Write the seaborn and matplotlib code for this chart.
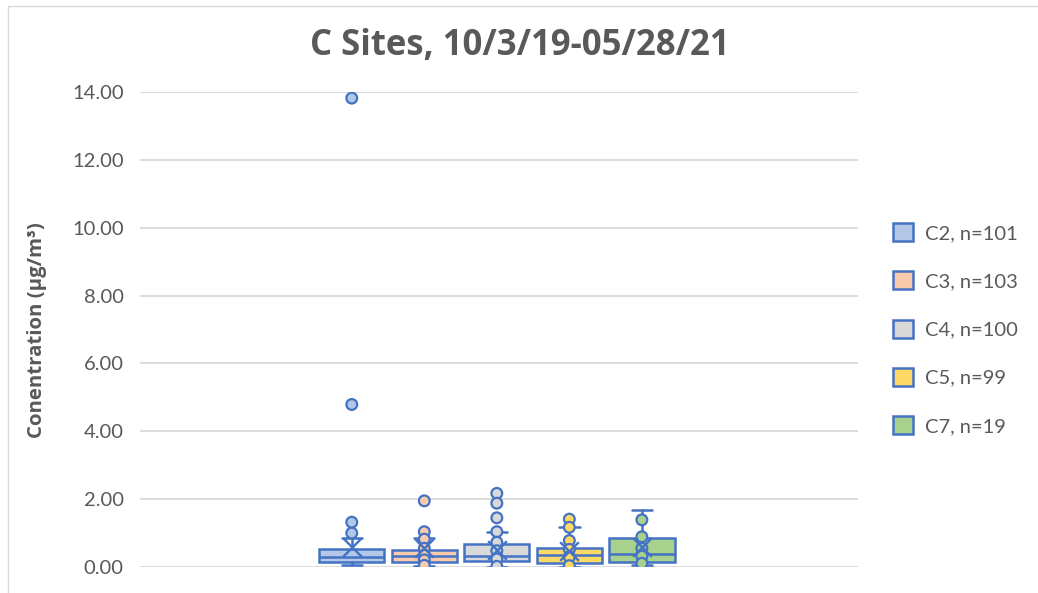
import matplotlib
matplotlib.use("Agg")
import matplotlib.pyplot as plt
from matplotlib.patches import Patch, Rectangle
import pandas as pd
import seaborn as sns

sites = ["C2", "C3", "C4", "C5", "C7"]
counts = [101, 103, 100, 99, 19]
q1 = [0.16, 0.15, 0.18, 0.13, 0.14]
medians = [0.29, 0.33, 0.32, 0.35, 0.38]
q3 = [0.52, 0.50, 0.68, 0.56, 0.86]
whisker_lo = [0.05, 0.03, 0.01, 0.01, 0.05]
whisker_hi = [0.85, 0.85, 1.04, 1.17, 1.68]
means = [0.60, 0.55, 0.50, 0.46, 0.60]
outliers = [
    [13.82, 4.79, 1.32, 1.00],
    [1.95, 1.04],
    [2.17, 1.88, 1.45],
    [1.41],
    [],
]
inner_points = [
    [],
    [0.82, 0.55, 0.35, 0.21, 0.05],
    [1.04, 0.73, 0.48, 0.24, 0.02],
    [1.17, 0.78, 0.52, 0.30, 0.04],
    [1.39, 0.89, 0.55, 0.32, 0.11],
]
fills = ["#B4C7E7", "#F8CBAD", "#D9D9D9", "#FFD966", "#A9D18E"]
edge = "#4472C4"
text_col = "#595959"

sns.set_theme(style="white")
plt.rcParams["font.family"] = ["Lato", "DejaVu Sans"]
bold_font = ["Open Sans", "DejaVu Sans"]

fig = plt.figure(figsize=(10.38, 5.93), dpi=100)
ax = fig.add_axes([140 / 1038, 1 - 567 / 593, 718 / 1038, 475 / 593])

positions = list(range(len(sites)))
stats = []
for i, s in enumerate(sites):
    stats.append(dict(label=s, med=medians[i], q1=q1[i], q3=q3[i],
                      whislo=whisker_lo[i], whishi=whisker_hi[i], fliers=[]))

bp = ax.bxp(stats, positions=positions, widths=0.9, capwidths=0.28,
            patch_artist=True, showfliers=False,
            boxprops=dict(edgecolor=edge, linewidth=1.8),
            medianprops=dict(color=edge, linewidth=1.8),
            whiskerprops=dict(color=edge, linewidth=1.8),
            capprops=dict(color=edge, linewidth=1.8), zorder=3)
for patch, c in zip(bp["boxes"], fills):
    patch.set_facecolor(c)

# points (outliers + inner points)
rows = []
for i, s in enumerate(sites):
    for v in outliers[i] + inner_points[i]:
        rows.append({"site": s, "pos": i, "value": v})
pts = pd.DataFrame(rows)
sns.scatterplot(data=pts, x="pos", y="value", hue="site", hue_order=sites,
                palette=fills, s=60, edgecolor=edge, linewidth=1.6,
                legend=False, zorder=5, ax=ax)

# mean markers
sns.scatterplot(x=positions, y=means, marker="x", s=180, color=edge,
                linewidth=1.7, legend=False, zorder=6, ax=ax)

ax.set_xlim(2 - 4.92, 2 + 4.98)
ax.set_ylim(0, 14)
ax.set_yticks([0, 2, 4, 6, 8, 10, 12, 14])
ax.set_yticklabels([f"{t:.2f}" for t in [0, 2, 4, 6, 8, 10, 12, 14]])
ax.set_xticks([])
ax.set_xlabel("")
ax.set_ylabel("")
ax.tick_params(axis="y", length=0, labelsize=14.5, labelcolor=text_col, pad=11.7)
ax.yaxis.grid(True, color="#D9D9D9", linewidth=1.3)
ax.set_axisbelow(True)
for sp in ax.spines.values():
    sp.set_visible(False)

fig.text(0.5005, 1 - 46 / 593, "C Sites, 10/3/19-05/28/21", ha="center",
         va="center", fontsize=25, fontweight="bold", color=text_col,
         family=bold_font)
fig.text(37 / 1038, 1 - 330 / 593, "Conentration (µg/m³)", rotation=90,
         ha="center", va="center", fontsize=14.7, fontweight="bold",
         color=text_col, family=bold_font)

handles = [Patch(facecolor=c, edgecolor=edge, linewidth=1.8) for c in fills]
labels = [f"{s}, n={n}" for s, n in zip(sites, counts)]
leg = fig.legend(handles, labels, loc="upper left",
                 bbox_to_anchor=(893 / 1038, 1 - 223 / 593), frameon=False,
                 fontsize=14.5, handlelength=1.0, handleheight=1.0,
                 handletextpad=0.6, labelspacing=1.46, borderpad=0,
                 borderaxespad=0)
for t in leg.get_texts():
    t.set_color(text_col)

# chart area border
fig.patches.append(Rectangle((8 / 1038, -0.05), 1.1, 1 - 6 / 593 + 0.05,
                             transform=fig.transFigure, fill=False,
                             edgecolor="#D9D9D9", linewidth=1.0))

fig.savefig("out.png", dpi=100)
